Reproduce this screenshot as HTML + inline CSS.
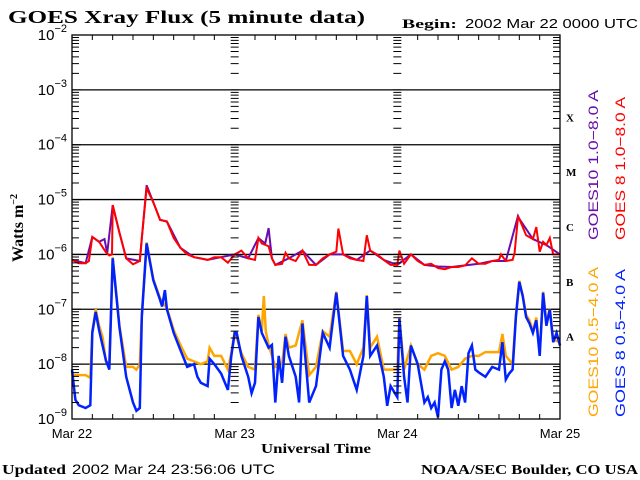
<!DOCTYPE html>
<html><head><meta charset="utf-8"><style>
html,body{margin:0;padding:0;background:#fff;}
svg{display:block;}
.sans{font-family:"Liberation Sans",sans-serif;}
.serif{font-family:"Liberation Serif",serif;font-weight:bold;}
</style></head><body>
<svg id="chart" width="640" height="480" viewBox="0 0 640 480">
<rect width="640" height="480" fill="#fff"/>
<text x="8" y="23" class="serif" font-size="18" textLength="357" lengthAdjust="spacingAndGlyphs">GOES Xray Flux (5 minute data)</text>
<text x="402" y="28" font-size="13"><tspan class="serif" textLength="55" lengthAdjust="spacingAndGlyphs">Begin:</tspan><tspan class="sans" x="465" textLength="173" lengthAdjust="spacingAndGlyphs">2002 Mar 22 0000 UTC</tspan></text>
<g id="grid"></g>
<g id="series"></g>
<g id="axes"></g>
<text transform="translate(23,228) rotate(-90)" text-anchor="middle" class="serif" font-size="16">Watts m<tspan dy="-6" font-size="10">−2</tspan></text>
<text x="316" y="453" text-anchor="middle" class="serif" font-size="14" textLength="110" lengthAdjust="spacingAndGlyphs">Universal Time</text>
<text x="2" y="474" font-size="14"><tspan class="serif" textLength="64" lengthAdjust="spacingAndGlyphs">Updated</tspan><tspan class="sans" x="72" textLength="203" lengthAdjust="spacingAndGlyphs">2002 Mar 24 23:56:06 UTC</tspan></text>
<text x="421" y="474" class="serif" font-size="14" textLength="217" lengthAdjust="spacingAndGlyphs">NOAA/SEC Boulder, CO USA</text>
<g class="sans" font-size="14">
<text transform="translate(598,240) rotate(-90)" fill="#6a0dad" textLength="150" lengthAdjust="spacingAndGlyphs">GOES10 1.0−8.0 A</text>
<text transform="translate(625,240) rotate(-90)" fill="#ff0000" textLength="143" lengthAdjust="spacingAndGlyphs">GOES 8 1.0−8.0 A</text>
<text transform="translate(598,417) rotate(-90)" fill="#ffa500" textLength="150" lengthAdjust="spacingAndGlyphs">GOES10 0.5−4.0 A</text>
<text transform="translate(625,417) rotate(-90)" fill="#0022ff" textLength="148" lengthAdjust="spacingAndGlyphs">GOES 8 0.5−4.0 A</text>
</g>
</svg>
<script>
const yTickExps = [-2,-3,-4,-5,-6,-7,-8,-9];
const xTickLabels = ["Mar 22","Mar 23","Mar 24","Mar 25"];
const classLabels = ["X","M","C","B","A"];
const classExps = [-3.5,-4.5,-5.5,-6.5,-7.5];

const redHours = [0,1,2,2.5,3,4,5,5.5,5.9,6,7,8,9,10,10.3,11,12,13,14,15,16,17,18,19,20,21,22,23,24,25,26,27,27.5,28,29,29.5,30,31,31.5,32,33,34,35,36,37,38,39,39.3,40,41,42,43,43.5,44,45,46,47,48,48.3,49,50,51,52,53,54,55,56,57,58,59,60,61,62,63,63.3,64,65,65.3,65.8,66,67,68,68.5,69,69.5,70,70.5,71,72];
const redLog = [-6.10,-6.16,-6.16,-6.12,-5.68,-5.77,-5.96,-6.02,-6.0,-5.1,-5.6,-6.07,-6.18,-6.12,-5.7,-4.79,-5.05,-5.37,-5.4,-5.7,-5.88,-6.0,-6.05,-6.07,-6.1,-6.05,-6.05,-6.15,-6.0,-5.93,-6.07,-6.1,-5.7,-5.8,-5.85,-6.07,-6.19,-6.17,-5.97,-6.07,-6.12,-5.93,-6.19,-6.19,-6.07,-6.0,-5.95,-5.53,-6.0,-6.07,-6.1,-6.12,-5.65,-5.93,-6.0,-6.1,-6.19,-6.19,-5.93,-6.17,-6.0,-6.12,-6.19,-6.17,-6.25,-6.27,-6.23,-6.23,-6.2,-6.07,-6.17,-6.17,-6.12,-6.1,-6.0,-6.12,-6.1,-5.97,-5.32,-5.35,-5.65,-5.72,-5.5,-5.95,-5.77,-5.83,-5.7,-6.0,-6.0];

const purpleHours = [0,2,3,4,4.8,5.2,6,7,8,10,11,12,13,14,16,18,20,22,24,26,27.5,28.5,29,29.5,30,32,34,36,38,40,42,44,46,48,50,52,54,56,58,60,62,64,65.8,66,68,70,72];
const purpleLog = [-6.1,-6.16,-5.68,-5.77,-5.72,-5.98,-5.1,-5.6,-6.07,-6.12,-4.74,-5.05,-5.37,-5.4,-5.88,-6.05,-6.1,-6.05,-6.0,-6.07,-5.7,-5.8,-5.52,-6.07,-6.19,-6.07,-5.93,-6.19,-6.0,-6.0,-6.1,-5.93,-6.1,-6.19,-6.0,-6.19,-6.22,-6.23,-6.2,-6.17,-6.12,-6.12,-5.3,-5.35,-5.72,-5.83,-6.0];

const blueHours = [0,0.5,1,2,2.7,3,3.5,4,5,5.5,6,7,8,9,9.5,10,10.3,11,12,13,13.3,13.7,14,15,16,17,18,18.5,19,20,20.3,21,22,23,23.5,24,24.3,25,26,26.5,27,27.5,28,29,29.5,30,30.5,31,31.5,32,33,33.5,34,35,36,37,38,39,40,41,42,43,43.5,44,45,46,46.5,47,48,48.3,49,49.5,50,51,52,52.5,53,53.5,54,54.5,55,55.5,56,56.5,57,57.5,58,58.5,59,59.5,60,61,62,63,63.5,64,64.5,65,65.5,66,66.5,67,67.5,68,68.5,69,69.5,70,70.5,71,71.5,72];
const blueLog = [-8.1,-8.65,-8.75,-8.8,-8.75,-7.43,-7.05,-7.38,-7.93,-8.1,-6.07,-7.32,-8.23,-8.7,-8.85,-8.8,-7.14,-5.8,-6.47,-6.83,-6.95,-6.65,-7.0,-7.43,-7.74,-8.05,-8.0,-8.23,-8.34,-8.4,-7.9,-8.0,-8.17,-8.47,-7.85,-7.43,-7.43,-7.85,-8.23,-8.53,-8.34,-7.14,-7.43,-7.7,-7.65,-8.7,-7.85,-8.34,-7.5,-7.85,-8.23,-8.7,-7.26,-8.7,-8.4,-7.43,-7.7,-6.7,-7.85,-8.1,-8.47,-7.85,-6.76,-7.85,-7.66,-8.23,-8.76,-8.4,-8.6,-7.17,-8.23,-8.7,-7.66,-8.0,-8.7,-8.6,-8.8,-8.7,-8.97,-8.1,-7.95,-8.1,-8.8,-8.47,-8.76,-8.4,-8.7,-7.8,-7.66,-8.1,-8.15,-8.23,-8.05,-8.1,-7.6,-8.28,-8.17,-8.1,-7.14,-6.5,-6.76,-7.14,-7.26,-7.43,-7.2,-7.85,-6.7,-7.3,-7.0,-7.6,-7.43,-7.66];

const orangeHours = [0,2,2.7,3,3.5,4,4.5,5,5.5,6,7,8,9,9.5,10,10.3,11,12,13,14,15,16,17,18,19,20,20.3,21,22,23,23.5,24,25,26,27,27.5,28,28.3,28.6,29,30,31,31.5,32,33,34,35,36,37,38,39,40,41,42,43,43.5,44,45,46,47,48,48.3,49,50,51,52,53,54,55,56,57,58,59,60,61,62,63,63.5,64,65,65.5,66,66.5,67,67.5,68,68.5,69,69.5,70,70.5,71,72];
const orangeLog = [-8.2,-8.2,-8.25,-7.4,-7.0,-7.3,-7.5,-7.95,-8.0,-6.05,-7.3,-8.05,-8.05,-8.1,-8.0,-7.1,-5.78,-6.45,-6.8,-6.98,-7.38,-7.65,-7.9,-7.95,-8.0,-7.95,-7.7,-7.85,-7.85,-8.1,-7.8,-7.4,-7.8,-8.05,-8.1,-7.1,-7.4,-6.76,-7.4,-7.65,-8.05,-8.0,-7.45,-7.7,-7.66,-7.2,-8.2,-8.05,-7.4,-7.5,-6.68,-7.76,-7.76,-8.0,-7.7,-6.74,-7.7,-7.5,-8.1,-8.1,-8.1,-7.15,-8.1,-7.66,-8.0,-8.1,-7.85,-7.8,-7.85,-8.1,-8.05,-7.9,-7.85,-7.85,-7.78,-7.78,-7.78,-7.45,-7.85,-8.0,-7.1,-6.48,-6.74,-7.1,-7.2,-7.4,-7.15,-7.8,-6.68,-7.25,-6.98,-7.55,-7.6];

const NS = "http://www.w3.org/2000/svg";
const L = 72, R = 560, T = 35, B = 419;
function xScale(h){ return L + (R - L) * h / 72; }
function yScale(e){ return T + (-2 - e) * (B - T) / 7; }
function mk(tag, attrs, parent){ const el = document.createElementNS(NS, tag); for (const k in attrs) el.setAttribute(k, attrs[k]); parent.appendChild(el); return el; }

const grid = document.getElementById('grid');
const axes = document.getElementById('axes');
const series = document.getElementById('series');

yTickExps.forEach(function(e){
  if (e === -2 || e === -9) return;
  const ln = mk('line', {x1:L, x2:R, y1:yScale(e), y2:yScale(e), stroke:'#000', 'stroke-width':1.3}, grid);
  
  
});

const frame = mk('rect', {x:L, y:T, width:R-L, height:B-T, fill:'none', stroke:'#000', 'stroke-width':1.3}, axes);



let tp = '';
const tickXs = [xScale(0), xScale(24), xScale(48), xScale(72)];
yTickExps.forEach(function(e){
  if (e === -9) return;
  for (let m = 1; m <= 9; m++){
    const y = yScale(e - 1 + Math.log10(m));
    tickXs.forEach(function(x, i){
      const edge = (i === 0 || i === 3);
      const len = edge ? (m === 1 ? 9 : 7) : 4;
      if (i < 3) tp += 'M' + x + ' ' + y + 'h' + len;
      if (i > 0) tp += 'M' + x + ' ' + y + 'h' + (-len);
    });
  }
});
for (let h = 0; h <= 72; h += 3){
  const x = xScale(h);
  const len = (h % 24 === 0) ? 0 : 5;
  tp += 'M' + x + ' ' + B + 'v' + (-len) + 'M' + x + ' ' + T + 'v' + len;
}
const ticks = mk('path', {d:tp, stroke:'#000', 'stroke-width':1, fill:'none'}, axes);



yTickExps.forEach(function(e){
  const t = mk('text', {x:67, y:yScale(e)+5, 'text-anchor':'end', 'font-size':15, class:'sans'}, axes);
  
  
  t.textContent = '10';
  const s = mk('tspan', {dy:-8, 'font-size':11}, t);
  s.textContent = '−' + (-e);
});
xTickLabels.forEach(function(lb, i){
  const t = mk('text', {x:xScale(i*24), y:438, 'text-anchor':'middle', 'font-size':13, class:'sans'}, axes);
  
  
  t.textContent = lb;
});
classLabels.forEach(function(c, i){
  const t = mk('text', {x:566, y:yScale(classExps[i])+4, 'font-size':11, class:'serif'}, axes);
  
  
  t.textContent = c;
});

function drawSeries(hours, vals, color, name, w){
  let d = '';
  hours.forEach(function(h, i){
    const y = Math.min(B, Math.max(T, yScale(vals[i])));
    d += (i ? 'L' : 'M') + xScale(h).toFixed(1) + ' ' + y.toFixed(1);
  });
  const p = mk('path', {d:d, stroke:color, 'stroke-width':w, fill:'none', 'stroke-linejoin':'miter'}, series);
  
  
}
drawSeries(purpleHours, purpleLog, '#6a0dad', 'goes10-long-line', 2);
drawSeries(redHours, redLog, '#ff0000', 'goes8-long-line', 2);
drawSeries(orangeHours, orangeLog, '#ffa500', 'goes10-short-line', 2.5);
drawSeries(blueHours, blueLog, '#0022ff', 'goes8-short-line', 2.5);
</script>
</body></html>
